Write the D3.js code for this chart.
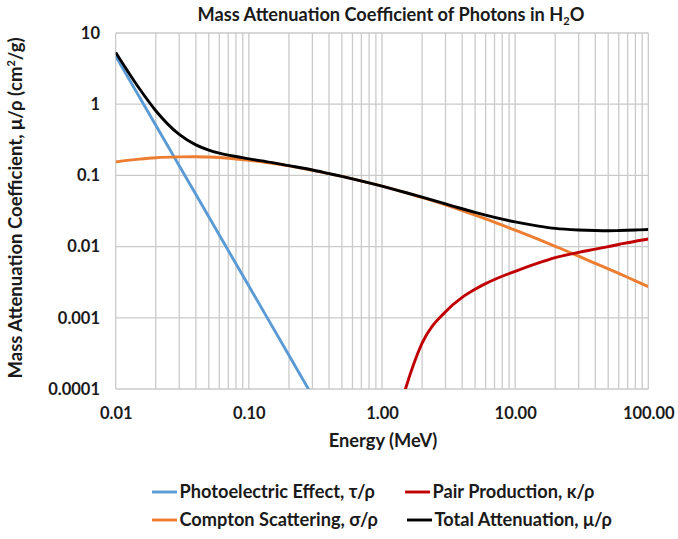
<!DOCTYPE html>
<html><head><meta charset="utf-8">
<script src="https://cdn.jsdelivr.net/npm/d3@7/dist/d3.min.js"></script>
<style>
body{margin:0;background:#fff;}
text{font-family:Lato,"Open Sans",sans-serif;font-weight:bold;fill:#1a1a1a;}
</style></head><body>
<svg id="c" width="678" height="539"></svg>
<script>
// ---- data ----
const energyPE = [0.01, 0.02, 0.03, 0.05, 0.1, 0.2, 0.3];
const photoelectric = [4.74, 0.505, 0.137, 0.0262, 0.00279, 0.000298, 0.00008];

const energyCS = [0.01,0.015,0.02,0.03,0.04,0.05,0.06,0.08,0.1,0.15,0.2,0.3,0.4,0.5,0.6,0.8,1,1.5,2,3,4,5,6,8,10,15,20,30,40,50,60,80,100];
const compton = [0.155,0.169,0.177,0.182,0.183,0.181,0.178,0.170,0.163,0.148,0.136,0.118,0.106,0.0967,0.0894,0.0786,0.0707,0.0574,0.0489,0.0386,0.0321,0.0277,0.0245,0.0200,0.0170,0.0126,0.0101,0.00735,0.0058,0.00487,0.0042,0.0033,0.00274];

const energyPP = [1.25,1.5,2,3,4,5,6,7,8,10,15,20,30,40,50,60,80,100];
const pair = [0.00003,0.0001,0.00044,0.00122,0.00194,0.00252,0.00302,0.00345,0.00383,0.0045,0.0059,0.0070,0.0083,0.0092,0.0100,0.0107,0.0119,0.0128];

const energyTot = energyCS;
const total = [5.33,1.673,0.81,0.376,0.268,0.227,0.206,0.184,0.171,0.151,0.137,0.119,0.106,0.0969,0.0896,0.0787,0.0707,0.0575,0.0494,0.0397,0.0340,0.0303,0.0277,0.0243,0.0222,0.0194,0.0180,0.0171,0.0168,0.0167,0.0168,0.0171,0.0174];

const xTicks = [0.01, 0.1, 1, 10, 100];
const xTickLabels = ["0.01","0.10","1.00","10.00","100.00"];
const yTicks = [10, 1, 0.1, 0.01, 0.001, 0.0001];
const yTickLabels = ["10","1","0.1","0.01","0.001","0.0001"];

const seriesNames = ["Photoelectric Effect, τ/ρ","Pair Production, κ/ρ","Compton Scattering, σ/ρ","Total Attenuation, μ/ρ"];
const seriesColors = ["#5B9BD5","#C00000","#ED7D31","#000000"];

// ---- layout ----
const svg = d3.select("#c");
const L = 115.7, R = 648.3, T = 33, B = 389;
const x = d3.scaleLog().domain([0.01, 100]).range([L, R]);
const y = d3.scaleLog().domain([0.0001, 10]).range([B, T]);

svg.append("defs").append("clipPath").attr("id","clip")
  .append("rect").attr("x",L).attr("y",T).attr("width",R-L).attr("height",B-T);

// gridlines
const minor = [];
for (let e = -2; e < 2; e++) for (let k = 1; k <= 9; k++) minor.push(k * Math.pow(10, e));
minor.push(100);
const g = svg.append("g");
g.selectAll(".vx").data(minor).join("line")
  .attr("x1", d => x(d)).attr("x2", d => x(d)).attr("y1", T).attr("y2", B)
  .attr("stroke", "#cacaca").attr("stroke-width", 1.3);
g.selectAll(".hy").data(yTicks).join("line")
  .attr("x1", L).attr("x2", R).attr("y1", d => y(d)).attr("y2", d => y(d))
  .attr("stroke", "#cacaca").attr("stroke-width", 1.3);

// axes
const ax = svg.append("g").attr("transform", `translate(0,${B})`)
  .call(d3.axisBottom(x).tickValues(xTicks).tickFormat((d,i)=>xTickLabels[i]).tickSize(0).tickPadding(18));
ax.select(".domain").remove();
ax.selectAll("text").attr("font-size", 16.5).attr("font-family","Lato").attr("font-weight","bold").attr("fill","#1a1a1a");
const ay = svg.append("g").attr("transform", `translate(${L},0)`)
  .call(d3.axisLeft(y).tickValues(yTicks).tickFormat((d,i)=>yTickLabels[i]).tickSize(0).tickPadding(15.7));
ay.select(".domain").remove();
ay.selectAll("text").attr("font-size", 16.5).attr("font-family","Lato").attr("font-weight","bold").attr("fill","#1a1a1a");

// lines
const line = d3.line().x(d => x(d[0])).y(d => y(d[1])).curve(d3.curveMonotoneX);
const plot = svg.append("g").attr("clip-path","url(#clip)");
const series = [
  {e: energyPE, v: photoelectric, c: seriesColors[0]},
  {e: energyCS, v: compton, c: seriesColors[2]},
  {e: energyPP, v: pair, c: seriesColors[1]},
  {e: energyTot, v: total, c: seriesColors[3]}
];
series.forEach(s => {
  plot.append("path").datum(s.e.map((d,i)=>[d, s.v[i]]))
    .attr("d", line).attr("fill","none").attr("stroke", s.c).attr("stroke-width", 2.9)
    .attr("stroke-linejoin","round");
});

// title
const t = svg.append("text").attr("x", 391).attr("y", 20.5).attr("text-anchor","middle").attr("font-size", 18.2);
t.append("tspan").text("Mass Attenuation Coefficient of Photons in H");
t.append("tspan").text("2").attr("font-size", 11).attr("dy", 4);
t.append("tspan").text("O").attr("dy", -4);

// axis titles
svg.append("text").attr("x", 383).attr("y", 446.5).attr("text-anchor","middle").attr("font-size", 18.3).text("Energy (MeV)");
const yt = svg.append("text").attr("transform", `translate(21.5,${(T+B)/2 - 3}) rotate(-90)`).attr("text-anchor","middle").attr("font-size", 18.5);
yt.append("tspan").text("Mass Attenuation Coefficient, μ/ρ (cm");
yt.append("tspan").text("2").attr("font-size", 11).attr("dy", -7);
yt.append("tspan").text("/g)").attr("dy", 7);

// legend
const legPos = [[152, 492],[405, 492],[152, 520],[407, 520]];
const lg = svg.append("g");
seriesNames.forEach((n, i) => {
  const [lx, ly] = legPos[i];
  lg.append("line").attr("x1", lx).attr("x2", lx+25).attr("y1", ly).attr("y2", ly)
    .attr("stroke", seriesColors[i]).attr("stroke-width", 2.9);
  lg.append("text").attr("x", lx+27.5).attr("y", ly+6.3).attr("font-size", 18.2).text(n);
});
</script></body></html>
